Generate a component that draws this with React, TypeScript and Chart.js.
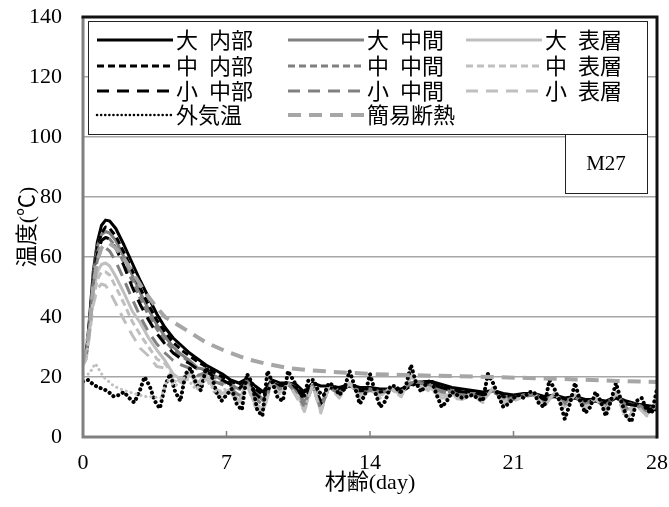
import { useEffect, useRef } from 'react';
import { Chart, registerables } from 'chart.js';

Chart.register(...registerables);

// ---- axes ----
const xTickValues = [0, 7, 14, 21, 28];
const yTickValues = [0, 20, 40, 60, 80, 100, 120, 140];
const xTitle = '材齢(day)';
const yTitle = '温度(℃)';
const mixLabel = 'M27';

// ---- time bases (days) ----
const tCore = [
  0, 0.15, 0.3, 0.5, 0.7, 0.9, 1.1, 1.3, 1.6, 2.0, 2.4, 2.8, 3.2, 3.6, 4.0, 4.4, 4.8, 5.2, 5.6, 6.0,
  6.4, 6.8, 7.2, 7.6, 8.0, 8.4, 8.8, 9.2, 9.6, 10.0, 10.4, 10.8, 11.2, 11.6, 12.0, 12.5, 13.0, 13.5,
  14.0, 14.5, 15.0, 15.5, 16.0, 16.5, 17.0, 17.5, 18.0, 18.5, 19.0, 19.5, 20.0, 20.5, 21.0, 21.5,
  22.0, 22.5, 23.0, 23.5, 24.0, 24.5, 25.0, 25.5, 26.0, 26.5, 27.0, 27.5, 28.0,
];
const tSemi = [
  0, 0.3, 0.5, 0.7, 0.9, 1.1, 1.3, 1.6, 2.0, 2.5, 3.0, 3.5, 4.0, 5.0, 6.0, 7.0, 8.0, 9.0, 10.0,
  11.0, 12.0, 13.0, 14.0, 16.0, 18.0, 20.0, 22.0, 24.0, 26.0, 28.0,
];
const tAir = [
  0, 0.25, 0.5, 0.75, 1, 1.25, 1.5, 1.75, 2, 2.25, 2.5, 2.75, 3, 3.25, 3.5, 3.75, 4, 4.25, 4.5, 4.75,
  5, 5.25, 5.5, 5.75, 6, 6.25, 6.5, 6.75, 7, 7.25, 7.5, 7.75, 8, 8.25, 8.5, 8.75, 9, 9.25, 9.5, 9.75,
  10, 10.25, 10.5, 10.75, 11, 11.25, 11.5, 11.75, 12, 12.25, 12.5, 12.75, 13, 13.25, 13.5, 13.75,
  14, 14.25, 14.5, 14.75, 15, 15.25, 15.5, 15.75, 16, 16.25, 16.5, 16.75, 17, 17.25, 17.5, 17.75,
  18, 18.25, 18.5, 18.75, 19, 19.25, 19.5, 19.75, 20, 20.25, 20.5, 20.75, 21, 21.25, 21.5, 21.75,
  22, 22.25, 22.5, 22.75, 23, 23.25, 23.5, 23.75, 24, 24.25, 24.5, 24.75, 25, 25.25, 25.5, 25.75,
  26, 26.25, 26.5, 26.75, 27, 27.25, 27.5, 27.75, 28,
];
const tSite = [0, 0.3, 0.6, 1.0, 1.5, 2.0, 2.5, 3.0, 3.5, 3.8, 4.1, 4.5, 5.0, 5.5, 6.0, 6.5, 7.0];

// ---- temperatures (°C) ----
const daiNaibu = [
  25, 27, 38, 55, 65, 70.5, 72.3, 72, 69.5, 64, 58, 52, 46.5, 41, 36.5, 33, 30.5, 28, 26, 24,
  22.5, 21, 19, 18, 19.5, 17, 15, 19, 18, 18, 17.5, 15, 18, 17, 17, 16.5, 17.5, 16.5,
  16.5, 16, 16, 16, 17.5, 18.5, 18.5, 17.5, 16.5, 16, 15.5, 15, 15.5, 14.5, 14, 14.5,
  14.5, 13.5, 14, 13, 13.5, 12.5, 12.5, 12, 13.5, 12, 11, 10.5, 10,
];
const daiChukan = [
  25, 27, 37, 54, 63.5, 67.5, 68.5, 68, 65.5, 60, 54, 48, 42.5, 37.5, 33.5, 30, 27.5, 25.5, 23, 22.5,
  20.5, 19, 17.5, 16, 19, 15, 12.5, 18.5, 17, 18, 16.5, 11.5, 17.5, 10.5, 17, 15.5, 17.5, 15,
  16, 15, 16, 15, 18, 18.5, 17.5, 16, 15.5, 15, 14.5, 14, 15.5, 13.5, 13, 14,
  14.5, 12.5, 14, 12, 13.5, 11.5, 12.5, 11, 14, 11, 11, 9.5, 10,
];
const daiHyoso = [
  24, 26, 35, 48, 55, 57.5, 58, 57, 53.5, 48, 42, 38, 33, 29, 25.5, 21, 19, 22, 18, 21,
  16.5, 14.5, 16, 12, 18.5, 11, 9.5, 18.5, 15, 18, 14.5, 9.5, 17.5, 9, 17, 14, 18, 14,
  16, 14, 16.5, 14, 20, 17.5, 16, 14, 14, 13.5, 14, 12.5, 16, 12, 12.5, 13.5,
  14.5, 11, 14.5, 10.5, 14, 10, 13, 9.5, 14.5, 9, 10.5, 8, 10.5,
];
const chuNaibu = [
  25, 27, 37, 53, 63, 68, 70, 69.5, 67, 61.5, 55.5, 49.5, 44, 39, 35, 31.5, 29, 27, 25, 23.5,
  21.5, 20, 18.5, 17.5, 19, 16, 14, 18.5, 17.5, 17.5, 16.5, 14, 17.5, 12, 17, 16, 17.5, 16,
  16, 15.5, 16, 15.5, 17, 18.5, 18, 17, 16, 15.5, 15, 14.5, 15.5, 14, 13.5, 14,
  14.5, 13, 14, 12.5, 13.5, 12, 12.5, 11.5, 13.5, 11.5, 11, 10, 9.5,
];
const chuChukan = [
  25, 27, 36, 52, 61.5, 65.5, 66.5, 66, 63.5, 58, 52, 46, 40.5, 36, 32, 29, 27, 25, 22.5, 22.5,
  20, 18.5, 17, 15.5, 19, 14.5, 12, 18.5, 16.5, 18, 16, 11, 17.5, 10, 17, 15, 17.5, 15,
  16, 15, 16, 15, 18, 18.5, 17, 15.5, 15, 14.5, 14.5, 13.5, 15.5, 13, 13, 14,
  14.5, 12, 14, 11.5, 13.5, 11, 12.5, 10.5, 14, 10.5, 11, 9, 10,
];
const chuHyoso = [
  24, 26, 34, 46, 52.5, 55, 55, 54, 50, 44.5, 38.5, 34, 30, 26, 24.5, 20.5, 18, 21.5, 17, 20.5,
  16, 14, 15.5, 11.5, 18, 10.5, 9, 18, 14.5, 18, 14, 9, 17.5, 8.5, 17, 13.5, 18, 13.5,
  16, 13.5, 16.5, 13.5, 20.5, 17, 15.5, 13.5, 13.5, 13, 14, 12, 16, 11.5, 12, 13.5,
  14.5, 10.5, 14.5, 10, 14, 9.5, 13, 9, 14.5, 8, 10.5, 7.5, 10.5,
];
const shoChubu = [
  25, 27, 36, 52, 61, 65.5, 66.5, 66, 63, 57, 50, 44, 39, 34.5, 31, 28, 26, 24.5, 22.5, 22,
  20, 19, 17.5, 16, 18.5, 14.5, 12, 18, 17, 17.5, 16, 13, 17, 11, 16.5, 15.5, 17, 15.5,
  15.5, 15, 15.5, 15, 17, 18, 17.5, 16.5, 15.5, 15, 14.5, 14, 15, 13.5, 13, 13.5,
  14, 12.5, 13.5, 12, 13, 11.5, 12, 11, 13, 11, 10.5, 9.5, 9,
];
const shoChukan = [
  25, 27, 36, 51, 59, 62.5, 63, 62, 58.5, 52.5, 46, 40, 35, 31, 28, 25.5, 24, 23, 20.5, 21.5,
  18.5, 17.5, 16, 14, 18.5, 13, 10.5, 18, 16, 17.5, 15, 10, 17, 9.5, 16.5, 14.5, 17.5, 14.5,
  15.5, 14.5, 16, 14.5, 18.5, 18, 16.5, 15, 14.5, 14, 14, 13, 15.5, 12.5, 12.5, 13.5,
  14, 11.5, 14, 11, 13.5, 10.5, 12.5, 10, 14, 9.5, 10.5, 8.5, 10,
];
const shoHyoso = [
  24, 26, 33, 44, 49.5, 51, 50.5, 48.5, 44.5, 39, 34, 29.5, 27, 23.5, 23, 19, 17, 21, 16, 20,
  15, 13, 15, 10.5, 17.5, 10, 8.5, 18, 14, 18, 13.5, 8.5, 17.5, 8, 17, 13, 18, 13,
  16, 13, 16.5, 13, 21, 16.5, 15, 13, 13, 12.5, 14, 11.5, 16.5, 11, 12, 13.5,
  14.5, 10, 15, 9.5, 14, 9, 13, 8, 15, 5.5, 10.5, 7, 11,
];
const gaikion = [
  18.5, 19, 17.5, 16.5, 16, 15, 13.5, 14, 15, 13, 11.5, 15, 20, 17, 12, 9.5, 17, 21, 15, 12,
  21, 23, 18, 15.5, 23, 21, 15, 12, 14, 16, 11, 9, 21, 18, 9, 7, 22, 18, 13, 12,
  22, 19, 16, 13, 19, 19, 15, 14, 18, 17, 14, 16, 22, 17, 11, 14,
  21, 15, 10, 12, 17, 17, 15, 17, 24, 18, 15, 18, 19, 14, 10, 12,
  15, 14, 13, 13.5, 14, 13, 12, 21, 18, 14, 10, 11, 13, 14, 13, 15,
  15, 11, 10, 19, 16, 12, 6, 11, 18, 12, 8, 10, 15, 12, 7, 12,
  18, 12, 7, 5, 12, 13, 9, 8, 16,
];
const kanidannetsu = [
  25, 35, 50, 59, 63, 64.5, 64.5, 63, 59.5, 54, 48.5, 44, 40, 35.8, 31.5, 28.5, 26, 24.3, 23,
  22.3, 21.8, 21.4, 21, 20.6, 20.3, 20, 19.6, 19.2, 18.7, 18.3,
];
const genbaKion = [21, 21, 24.5, 20, 17, 15.5, 14.5, 13.5, 13.3, 13, 19, 17, 20, 16, 19, 15, 16];

const BLACK = '#000000';
const GRAY = '#808080';
const LIGHT = '#bfbfbf';
const SEMI = '#a6a6a6';
const SHORT = [7, 4];
const LONG = [12, 8];
const DOT = [0.1, 5];

type Series = {
  label: string;
  t: number[];
  v: number[];
  color: string;
  width: number;
  dash: number[];
  round?: boolean;
  inLegend: boolean;
};

const series: Series[] = [
  { label: '大 内部', t: tCore, v: daiNaibu, color: BLACK, width: 3, dash: [], inLegend: true },
  { label: '大 中間', t: tCore, v: daiChukan, color: GRAY, width: 3, dash: [], inLegend: true },
  { label: '大 表層', t: tCore, v: daiHyoso, color: LIGHT, width: 3, dash: [], inLegend: true },
  { label: '中 内部', t: tCore, v: chuNaibu, color: BLACK, width: 3, dash: SHORT, inLegend: true },
  { label: '中 中間', t: tCore, v: chuChukan, color: GRAY, width: 3, dash: SHORT, inLegend: true },
  { label: '中 表層', t: tCore, v: chuHyoso, color: LIGHT, width: 3, dash: SHORT, inLegend: true },
  { label: '小 中部', t: tCore, v: shoChubu, color: BLACK, width: 3, dash: LONG, inLegend: true },
  { label: '小 中間', t: tCore, v: shoChukan, color: GRAY, width: 3, dash: LONG, inLegend: true },
  { label: '小 表層', t: tCore, v: shoHyoso, color: LIGHT, width: 3, dash: LONG, inLegend: true },
  { label: '外気温', t: tAir, v: gaikion, color: BLACK, width: 4, dash: DOT, round: true, inLegend: true },
  { label: '簡易断熱', t: tSemi, v: kanidannetsu, color: SEMI, width: 4, dash: [13, 8], inLegend: true },
  { label: '', t: tSite, v: genbaKion, color: LIGHT, width: 3, dash: DOT, round: true, inLegend: false },
];

const SERIF = "'Liberation Serif', 'Noto Sans CJK JP', serif";
const CJK = "'Noto Sans CJK JP', 'Liberation Serif', sans-serif";

// legend layout
const legendBox = { left: 88, top: 21, right: 647, bottom: 134 };
const legendCols = [97, 288, 466];
const legendRows = [40, 66, 91, 115];
const sampleLen = 76;

// mix label box
const mixBox = { left: 565, top: 134, right: 647, bottom: 193 };

const overlay = {
  id: 'overlay',
  afterDatasetsDraw(chart: any) {
    const { ctx, chartArea: a, scales } = chart;
    ctx.save();

    // inner tick marks on x axis
    ctx.strokeStyle = GRAY;
    ctx.lineWidth = 1.5;
    xTickValues.forEach((v) => {
      const x = scales.x.getPixelForValue(v);
      ctx.beginPath();
      ctx.moveTo(x, a.bottom);
      ctx.lineTo(x, a.bottom - 6);
      ctx.stroke();
    });

    // plot frame
    ctx.lineWidth = 3;
    ctx.strokeStyle = GRAY;
    ctx.beginPath();
    ctx.moveTo(a.left, a.top);
    ctx.lineTo(a.left, a.bottom);
    ctx.lineTo(a.right, a.bottom);
    ctx.stroke();
    ctx.strokeStyle = '#111';
    ctx.beginPath();
    ctx.moveTo(a.left - 1.5, a.top);
    ctx.lineTo(a.right, a.top);
    ctx.lineTo(a.right, a.bottom + 1.5);
    ctx.stroke();

    // legend
    const lb = legendBox;
    ctx.fillStyle = '#fff';
    ctx.fillRect(lb.left, lb.top, lb.right - lb.left, lb.bottom - lb.top);
    ctx.lineWidth = 1;
    ctx.strokeStyle = '#222';
    ctx.strokeRect(lb.left + 0.5, lb.top + 0.5, lb.right - lb.left, lb.bottom - lb.top);

    const fs = 22;
    ctx.font = `${fs}px ${CJK}`;
    ctx.textBaseline = 'middle';
    ctx.textAlign = 'left';
    series
      .filter((s) => s.inLegend)
      .forEach((s, k) => {
        const x0 = legendCols[k % 3];
        const y = legendRows[Math.floor(k / 3)];
        ctx.save();
        ctx.strokeStyle = s.color;
        ctx.lineWidth = s.round ? 2.5 : s.width;
        ctx.lineCap = s.round ? 'round' : 'butt';
        ctx.setLineDash(s.round ? [0.1, 4] : s.dash);
        ctx.beginPath();
        ctx.moveTo(x0, y);
        ctx.lineTo(x0 + sampleLen, y);
        ctx.stroke();
        ctx.restore();

        ctx.fillStyle = '#000';
        let tx = x0 + sampleLen + 3;
        s.label.split(' ').forEach((part, i) => {
          if (i > 0) tx += fs * 0.5;
          ctx.fillText(part, tx, y);
          tx += ctx.measureText(part).width;
        });
      });

    // mix label
    const mb = mixBox;
    ctx.fillStyle = '#fff';
    ctx.fillRect(mb.left, mb.top, mb.right - mb.left, mb.bottom - mb.top);
    ctx.strokeStyle = '#222';
    ctx.lineWidth = 1;
    ctx.strokeRect(mb.left + 0.5, mb.top + 0.5, mb.right - mb.left, mb.bottom - mb.top);
    ctx.fillStyle = '#000';
    ctx.font = `21px ${SERIF}`;
    ctx.textAlign = 'center';
    ctx.fillText(mixLabel, (mb.left + mb.right) / 2, (mb.top + mb.bottom) / 2 + 1);

    // axis titles
    ctx.font = `22px ${SERIF}`;
    ctx.fillText(xTitle, (a.left + a.right) / 2, 483);
    ctx.translate(28, (a.top + a.bottom) / 2);
    ctx.rotate(-Math.PI / 2);
    ctx.fillText(yTitle, 0, 0);

    ctx.restore();
  },
};

export default function App() {
  const ref = useRef<HTMLCanvasElement>(null);

  useEffect(() => {
    const canvas = ref.current;
    if (!canvas) return;
    const chart = new Chart(canvas, {
      type: 'line',
      data: {
        datasets: series.map((s, i) => ({
          label: s.label,
          data: s.t.map((x, j) => ({ x, y: s.v[j] })),
          borderColor: s.color,
          backgroundColor: s.color,
          borderWidth: s.width,
          borderDash: s.dash,
          borderCapStyle: s.round ? 'round' : 'butt',
          borderJoinStyle: 'round',
          pointRadius: 0,
          fill: false,
          tension: 0,
          order: -i,
        })),
      },
      options: {
        responsive: false,
        animation: false,
        events: [],
        layout: { padding: { left: 0, right: 12, top: 17, bottom: 0 } },
        plugins: { legend: { display: false }, tooltip: { enabled: false } },
        scales: {
          x: {
            type: 'linear',
            min: 0,
            max: 28,
            afterBuildTicks: (s: any) => {
              s.ticks = xTickValues.map((value) => ({ value }));
            },
            afterFit: (s: any) => {
              s.height = 70;
              s.paddingLeft = 0;
              s.paddingRight = 0;
            },
            grid: { display: false, drawTicks: false },
            border: { display: false },
            ticks: {
              padding: 13,
              color: '#000',
              maxRotation: 0,
              autoSkip: false,
              font: { family: SERIF, size: 22 },
            },
          },
          y: {
            type: 'linear',
            min: 0,
            max: 140,
            afterBuildTicks: (s: any) => {
              s.ticks = yTickValues.map((value) => ({ value }));
            },
            afterFit: (s: any) => {
              s.width = 83;
              s.paddingTop = 0;
              s.paddingBottom = 0;
            },
            grid: { color: '#a6a6a6', lineWidth: 1.5, drawTicks: false },
            border: { display: false },
            ticks: {
              padding: 21,
              color: '#000',
              autoSkip: false,
              font: { family: SERIF, size: 22 },
            },
          },
        },
      },
      plugins: [overlay],
    } as any);
    return () => chart.destroy();
  }, []);

  return (
    <div style={{ position: 'absolute', left: 0, top: 0, width: 669, height: 507, background: '#fff' }}>
      <canvas ref={ref} width={669} height={507} style={{ display: 'block' }} />
    </div>
  );
}
